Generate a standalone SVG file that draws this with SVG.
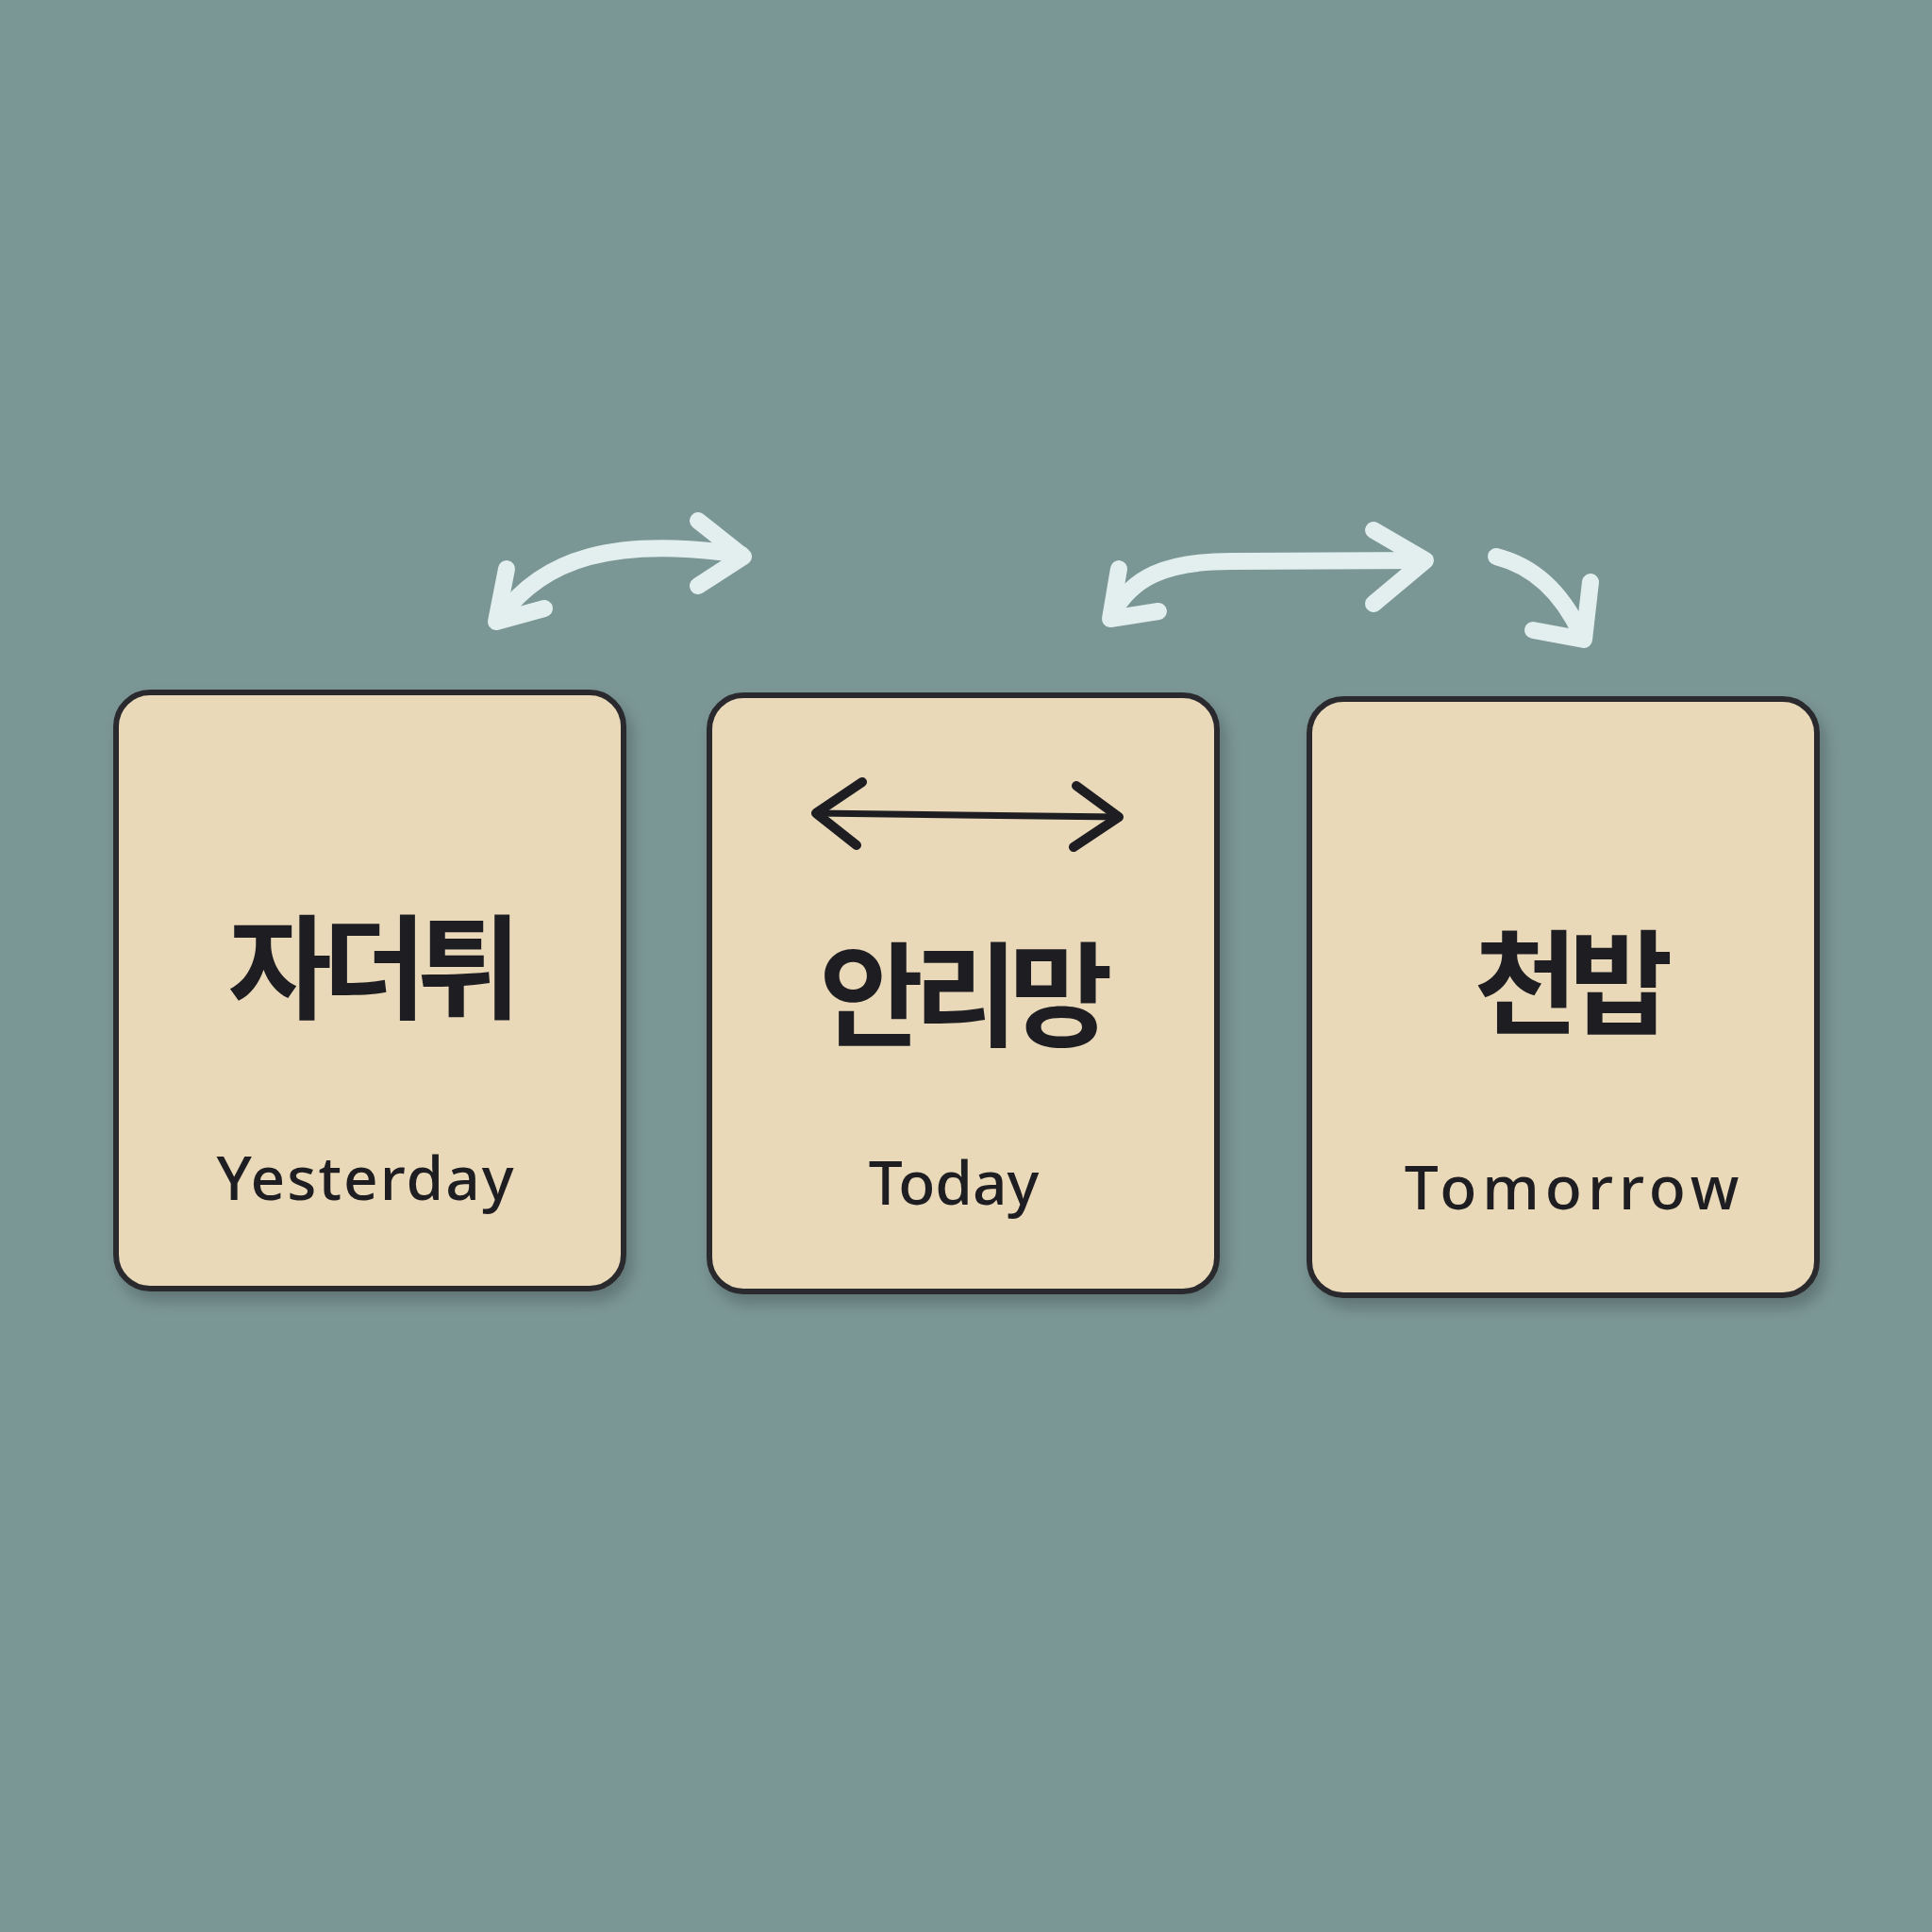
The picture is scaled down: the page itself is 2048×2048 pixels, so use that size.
<svg xmlns="http://www.w3.org/2000/svg" width="2048" height="2048" viewBox="0 0 2048 2048">
<style>
.card{fill:#E9D9B9;stroke:#2A2A2E;stroke-width:6}
.ko{font-family:"Noto Sans CJK KR","Noto Sans",sans-serif;font-weight:700;font-size:120px;fill:#1E1E22;text-anchor:middle;letter-spacing:-10px}
.en{font-family:"Noto Sans","Open Sans",sans-serif;font-weight:500;font-size:64px;fill:#1E1E22;text-anchor:middle}
.flow{fill:none;stroke:#E3EEEE;stroke-width:18;stroke-linecap:round;stroke-linejoin:round}
.inner{fill:none;stroke:#1E1E22;stroke-linecap:round;stroke-linejoin:round}
</style>
<defs>
<filter id="sh" x="-10%" y="-10%" width="130%" height="130%">
<feGaussianBlur in="SourceAlpha" stdDeviation="8"/>
<feOffset dx="6" dy="10"/>
<feComponentTransfer><feFuncA type="linear" slope="0.22"/></feComponentTransfer>
<feMerge><feMergeNode/><feMergeNode in="SourceGraphic"/></feMerge>
</filter>
</defs>
<rect width="2048" height="2048" fill="#7A9695"/>
<g id="yesterday">
<rect class="card" x="123" y="734" width="538" height="632" rx="36" filter="url(#sh)"/>
<text class="ko" x="392" y="1071">자더튀</text>
<text class="en" x="388" y="1272" letter-spacing="2">Yesterday</text>
</g>
<g id="today">
<rect class="card" x="752" y="737" width="538" height="632" rx="36" filter="url(#sh)"/>
<path class="inner" stroke-width="7" d="M865 862 L1186 866"/>
<path class="inner" stroke-width="10" d="M914 829 L865 862 L908 896 M1141 833 L1186 866 L1138 898"/>
<text class="ko" x="1019" y="1100">안리망</text>
<text class="en" x="1011" y="1277">Today</text>
</g>
<g id="tomorrow">
<rect class="card" x="1388" y="741" width="538" height="632" rx="36" filter="url(#sh)"/>
<text class="ko" x="1663" y="1087">천밥</text>
<text class="en" x="1669" y="1282" letter-spacing="6">Tomorrow</text>
</g>
<g id="connectors">
<path class="flow" d="M530 655 C575 592 650 568 786 588"/>
<path class="flow" d="M537 603 L526 659 L577 645"/>
<path class="flow" d="M740 552 L788 590 L740 621"/>
<path class="flow" d="M1178 652 C1200 612 1235 595 1305 595 L1510 594"/>
<path class="flow" d="M1186 603 L1177 656 L1228 648"/>
<path class="flow" d="M1456 562 L1511 594 L1456 640"/>
<path class="flow" d="M1586 590 Q1645 605 1676 672"/>
<path class="flow" d="M1686 617 L1679 678 L1625 668"/>
</g>
</svg>
